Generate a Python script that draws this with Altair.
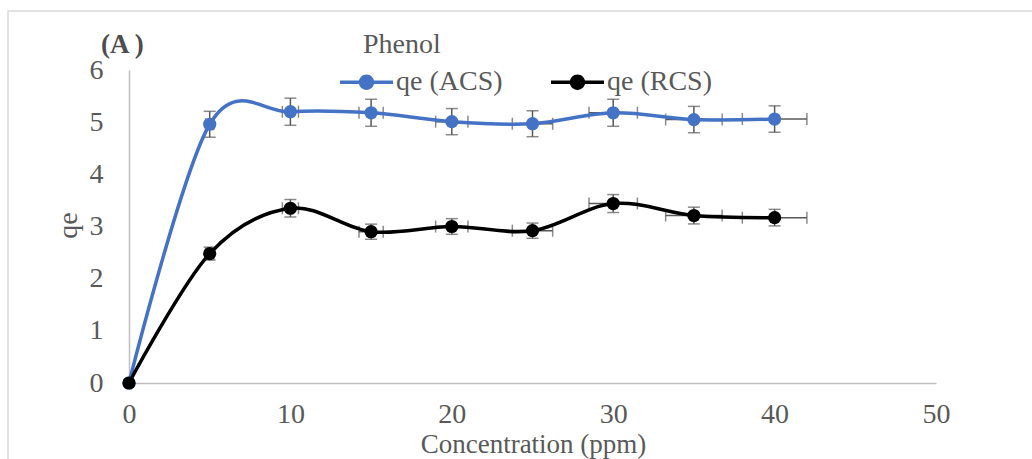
import altair as alt
import pandas as pd

# ---- data ----
conc = [0, 5, 10, 15, 20, 25, 30, 35, 40]
qe_acs = [0, 4.96, 5.20, 5.18, 5.01, 4.97, 5.18, 5.05, 5.06]
qe_rcs = [0, 2.48, 3.35, 2.90, 3.00, 2.92, 3.44, 3.21, 3.17]
series_names = ["qe (ACS)", "qe (RCS)"]
series_colors = ["#4472C4", "#000000"]
err_pct = 0.05  # percentage error bars (both x and y), as in the source chart
x_ticks = [0, 10, 20, 30, 40, 50]
y_ticks = [0, 1, 2, 3, 4, 5, 6]
panel_label = "(A )"
chart_title = "Phenol"
x_title = "Concentration (ppm)"
y_title = "qe"

FONT = "Liberation Serif"
TXT = "#595959"

rows = []
for name, vals in zip(series_names, [qe_acs, qe_rcs]):
    for c, q in zip(conc, vals):
        rows.append(dict(series=name, c=c, q=q,
                         qlo=q * (1 - err_pct), qhi=q * (1 + err_pct),
                         clo=c * (1 - err_pct), chi=c * (1 + err_pct)))
df = pd.DataFrame(rows)

xscale = alt.Scale(domain=[0, 50], nice=False, zero=False)
yscale = alt.Scale(domain=[0, 6], nice=False, zero=False)

xaxis = alt.Axis(values=x_ticks, grid=False, ticks=False, tickSize=0, labelFlush=False,
                 labelFont=FONT, labelFontSize=28, labelColor=TXT, labelPadding=39,
                 labelBaseline="alphabetic", domainColor="#BFBFBF", domainWidth=1.5,
                 titleFont=FONT, titleFontSize=27, titleFontWeight="normal", titleColor=TXT,
                 titleX=404, titleY=69, titleAlign="center", titleBaseline="alphabetic")
yaxis = alt.Axis(values=y_ticks, grid=False, ticks=False, tickSize=0, labelFlush=False,
                 labelFont=FONT, labelFontSize=28, labelColor=TXT, labelPadding=26,
                 domainColor="#BFBFBF", domainWidth=1.5,
                 titleFont=FONT, titleFontSize=28, titleFontWeight="normal", titleColor=TXT,
                 titleX=-53, titleY=155, titleAlign="center", titleBaseline="alphabetic")


def X(field):
    return alt.X(f"{field}:Q", scale=xscale, axis=xaxis, title=x_title)


def Y(field):
    return alt.Y(f"{field}:Q", scale=yscale, axis=yaxis, title=y_title)


# legend symbol: a short line with a dot in the middle (fill-only path)
sym = ("M-1,-0.066H1V0.066H-1Z "
       "M0.29,0A0.29,0.29,0,1,1,-0.29,0A0.29,0.29,0,1,1,0.29,0Z")
legend = alt.Legend(orient="none", legendX=211, legendY=-14.5, direction="horizontal",
                    title=None, symbolType=sym, symbolSize=2809, symbolStrokeWidth=0,
                    labelFont=FONT, labelFontSize=28, labelColor=TXT, labelOffset=3,
                    columnPadding=48, labelLimit=300)
color = alt.Color("series:N", scale=alt.Scale(domain=series_names, range=series_colors),
                  legend=legend)

base = alt.Chart(df)
ERR = "#595959"

v_rule = base.mark_rule(color=ERR, strokeWidth=1.5).encode(x=X("c"), y=Y("qlo"), y2="qhi")
v_cap_lo = base.mark_tick(color=ERR, orient="horizontal", size=12, thickness=1.5).encode(x=X("c"), y=Y("qlo"))
v_cap_hi = base.mark_tick(color=ERR, orient="horizontal", size=12, thickness=1.5).encode(x=X("c"), y=Y("qhi"))
h_rule = base.mark_rule(color=ERR, strokeWidth=1.5).encode(x=X("clo"), x2="chi", y=Y("q"))
h_cap_lo = base.mark_tick(color=ERR, orient="vertical", size=12, thickness=1.5).encode(x=X("clo"), y=Y("q"))
h_cap_hi = base.mark_tick(color=ERR, orient="vertical", size=12, thickness=1.5).encode(x=X("chi"), y=Y("q"))

lines = base.mark_line(interpolate="cardinal", tension=0, strokeWidth=3.5).encode(
    x=X("c"), y=Y("q"), color=color, detail="series:N")
points = base.mark_point(filled=True, size=175, opacity=1).encode(
    x=X("c"), y=Y("q"), color=color)

frame = alt.Chart(pd.DataFrame({"k": [0]})).mark_rect(
    fillOpacity=0, stroke="#D9D9D9", strokeWidth=1.5).encode(
    x=alt.value(-121), x2=alt.value(905), y=alt.value(-59), y2=alt.value(400))

panel = alt.Chart(pd.DataFrame({"t": [panel_label]})).mark_text(
    font=FONT, fontSize=27, fontWeight="bold", color="#4D4D4D", align="left",
    baseline="alphabetic").encode(text="t:N", x=alt.value(-28), y=alt.value(-17))
title = alt.Chart(pd.DataFrame({"t": [chart_title]})).mark_text(
    font=FONT, fontSize=28, color=TXT, align="left",
    baseline="alphabetic").encode(text="t:N", x=alt.value(234), y=alt.value(-17))

chart = alt.layer(
    frame, v_rule, v_cap_lo, v_cap_hi, h_rule, h_cap_lo, h_cap_hi, lines, points, panel, title
).properties(
    width=807, height=313,
    autosize=alt.AutoSizeParams(type="none"),
    padding={"left": 129, "top": 70, "right": 96, "bottom": 76},
    background="white",
).configure_view(stroke=None)

chart.save("out.html", embed_options={"renderer": "svg", "actions": False})
